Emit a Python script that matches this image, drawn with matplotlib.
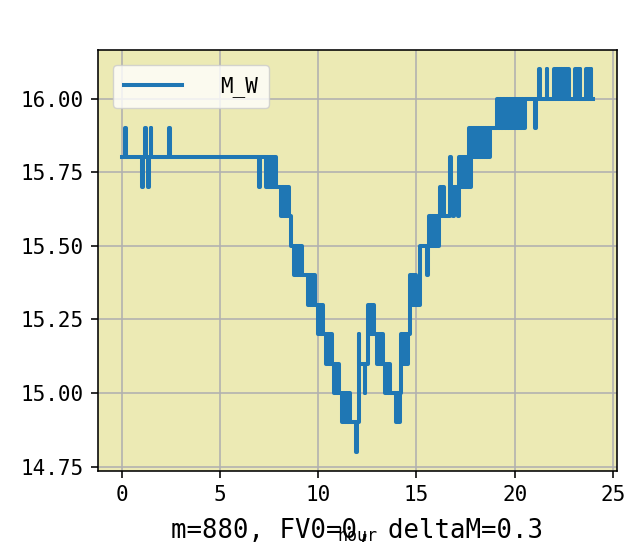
import matplotlib
matplotlib.use("Agg")
import matplotlib.pyplot as plt
from matplotlib.ticker import MultipleLocator, FormatStrFormatter

plt.rcParams['font.family'] = ['DejaVu Sans Mono']

# step change points (hour, M_W)
hours = [
    0.00, 0.17, 0.21, 1.06, 1.10, 1.20, 1.24, 1.35, 1.39, 1.48, 1.52, 2.42, 2.46,
    7.00, 7.05, 7.35, 7.41, 7.47, 7.53, 7.59, 7.65, 7.71, 7.77, 7.83,
    8.10, 8.17, 8.24, 8.31, 8.38, 8.45, 8.52, 8.60,
    8.78, 8.85, 8.92, 8.99, 9.06, 9.12, 9.18,
    9.46, 9.52, 9.58, 9.64, 9.70, 9.76, 9.82,
    10.00, 10.05, 10.13, 10.19, 10.25,
    10.40, 10.47, 10.54, 10.61, 10.68,
    10.80, 10.87, 10.94, 11.01, 11.07,
    11.20, 11.27, 11.34, 11.41, 11.48, 11.55, 11.62,
    11.93, 11.97, 12.06, 12.10, 12.36, 12.40,
    12.55, 12.61, 12.67, 12.73, 12.79, 12.86,
    13.00, 13.07, 13.14, 13.21, 13.28,
    13.40, 13.47, 13.54, 13.61, 13.66,
    13.95, 14.02, 14.09, 14.16, 14.22,
    14.28, 14.34, 14.40, 14.46, 14.52, 14.58,
    14.66, 14.72, 14.78, 14.84, 14.90, 14.96, 15.18,
    15.52, 15.58,
    15.66, 15.72, 15.78, 15.84, 15.90, 15.96, 16.02, 16.08, 16.14,
    16.20, 16.26, 16.32, 16.38,
    16.70, 16.74, 16.86, 16.90, 17.10, 17.14,
    17.18, 17.24, 17.30, 17.36, 17.42, 17.48, 17.54, 17.60, 17.66, 17.72, 17.78, 17.84,
    17.90, 17.96, 18.02, 18.08, 18.14, 18.20, 18.26, 18.32, 18.38, 18.44, 18.50,
    18.56, 18.62, 18.68, 18.72,
    19.08, 19.16, 19.24, 19.32, 19.40, 19.48, 19.56, 19.64, 19.72, 19.80,
    19.88, 19.96, 20.04, 20.12, 20.20, 20.28, 20.36, 20.44, 20.50,
    21.03, 21.07, 21.25, 21.29, 21.62, 21.66,
    22.00, 22.06, 22.12, 22.18, 22.24, 22.30, 22.36, 22.42, 22.48, 22.54, 22.60,
    22.66, 22.72, 22.76,
    23.08, 23.14, 23.20, 23.26, 23.30, 23.34,
    23.64, 23.70, 23.76, 23.82, 23.86, 23.90,
    24.00,
]
m_w = [
    15.8, 15.9, 15.8, 15.7, 15.8, 15.9, 15.8, 15.7, 15.8, 15.9, 15.8, 15.9, 15.8,
    15.7, 15.8, 15.7, 15.8, 15.7, 15.8, 15.7, 15.8, 15.7, 15.8, 15.7,
    15.6, 15.7, 15.6, 15.7, 15.6, 15.7, 15.6, 15.5,
    15.4, 15.5, 15.4, 15.5, 15.4, 15.5, 15.4,
    15.3, 15.4, 15.3, 15.4, 15.3, 15.4, 15.3,
    15.2, 15.3, 15.2, 15.3, 15.2,
    15.1, 15.2, 15.1, 15.2, 15.1,
    15.0, 15.1, 15.0, 15.1, 15.0,
    14.9, 15.0, 14.9, 15.0, 14.9, 15.0, 14.9,
    14.8, 14.9, 15.2, 15.1, 15.0, 15.1,
    15.3, 15.2, 15.3, 15.2, 15.3, 15.2,
    15.1, 15.2, 15.1, 15.2, 15.1,
    15.0, 15.1, 15.0, 15.1, 15.0,
    14.9, 15.0, 14.9, 15.0, 15.2,
    15.1, 15.2, 15.1, 15.2, 15.1, 15.2,
    15.4, 15.3, 15.4, 15.3, 15.4, 15.3, 15.5,
    15.4, 15.5,
    15.6, 15.5, 15.6, 15.5, 15.6, 15.5, 15.6, 15.5, 15.6,
    15.7, 15.6, 15.7, 15.6,
    15.8, 15.7, 15.6, 15.7, 15.6, 15.7,
    15.8, 15.7, 15.8, 15.7, 15.8, 15.7, 15.8, 15.7, 15.9, 15.7, 15.9, 15.8,
    15.9, 15.8, 15.9, 15.8, 15.9, 15.8, 15.9, 15.8, 15.9, 15.8, 15.9,
    15.8, 15.9, 15.8, 15.9,
    16.0, 15.9, 16.0, 15.9, 16.0, 15.9, 16.0, 15.9, 16.0, 15.9,
    16.0, 15.9, 16.0, 15.9, 16.0, 15.9, 16.0, 15.9, 16.0,
    15.9, 16.0, 16.1, 16.0, 16.1, 16.0,
    16.1, 16.0, 16.1, 16.0, 16.1, 16.0, 16.1, 16.0, 16.1, 16.0, 16.1,
    16.0, 16.1, 16.0,
    16.1, 16.0, 16.1, 16.0, 16.1, 16.0,
    16.1, 16.0, 16.1, 16.0, 16.1, 16.0,
    16.0,
]
note = 'm=880, FV0=0, deltaM=0.3'

fig = plt.figure(figsize=(6.27, 5.53), dpi=100)
ax = fig.add_axes([98/627, 82/553, 519/627, 421/553])
ax.set_facecolor('#ECEAB4')

ax.plot(hours, m_w, drawstyle='steps-post', color='#1f77b4', lw=2.9, label='M_W')

ax.grid(True, color='#b0b0b0', lw=1.15)
ax.set_axisbelow(True)
for s in ax.spines.values():
    s.set_linewidth(1.15)
ax.tick_params(labelsize=15, length=5, width=1.15, pad=5)
ax.yaxis.set_major_locator(MultipleLocator(0.25))
ax.yaxis.set_major_formatter(FormatStrFormatter('%.2f'))

ax.set_xlabel('hour', fontsize=12, labelpad=16)
leg = ax.legend(loc='upper left', fontsize=15, handlelength=2.8, handletextpad=1.8,
                borderaxespad=0.7, borderpad=0.55)

fig.text(357/627, 1 - 531/553, note, fontsize=18.5, ha='center', va='center')

fig.savefig('out.png', dpi=100)
